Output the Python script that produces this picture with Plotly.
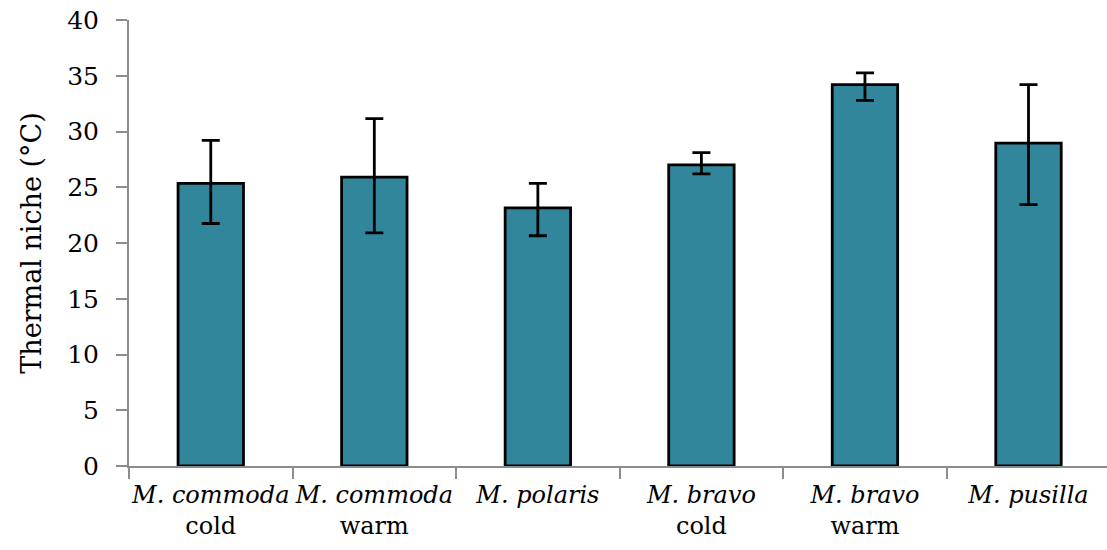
import plotly.graph_objects as go

# Thermal niche per species / population
species = ["M. commoda", "M. commoda", "M. polaris", "M. bravo", "M. bravo", "M. pusilla"]
groups = ["cold", "warm", "", "cold", "warm", ""]
niche = [25.35, 25.9, 23.15, 27.0, 34.2, 28.95]
err_plus = [3.85, 5.25, 2.2, 1.1, 1.05, 5.25]
err_minus = [3.6, 5.0, 2.5, 0.8, 1.4, 5.5]
y_ticks = [0, 5, 10, 15, 20, 25, 30, 35, 40]

# Category labels: italic species name, population on a second line
labels = [f"<i>{s}</i><br>{g}" for s, g in zip(species, groups)]
x = list(range(len(species)))
boundaries = [i - 0.5 for i in range(len(species) + 1)]

FONT = "DejaVu Serif"
AXIS_GREY = "#8c8c8c"

fig = go.Figure(
    go.Bar(
        x=x,
        y=niche,
        width=0.4,
        marker=dict(color="#32869c", line=dict(color="black", width=2.8)),
        error_y=dict(
            type="data",
            symmetric=False,
            array=err_plus,
            arrayminus=err_minus,
            color="black",
            thickness=2.8,
            width=9,
        ),
    )
)

fig.update_layout(
    width=1107,
    height=550,
    margin=dict(l=129, r=0, t=20, b=84),
    paper_bgcolor="white",
    plot_bgcolor="white",
    showlegend=False,
    font=dict(family=FONT, size=24, color="black"),
)

# Labels at category centres, tick marks on the category boundaries
fig.update_xaxes(
    range=[-0.5, 5.48],
    tickmode="array",
    tickvals=x,
    ticktext=labels,
    ticks="",
    tickangle=0,
    ticklabelstandoff=6,
    minor=dict(
        tickmode="array",
        tickvals=boundaries,
        ticks="outside",
        ticklen=11,
        tickwidth=2,
        tickcolor=AXIS_GREY,
        showgrid=False,
    ),
    showline=True,
    linecolor=AXIS_GREY,
    linewidth=2,
    showgrid=False,
    zeroline=False,
    automargin=False,
    tickfont=dict(family=FONT, size=24),
)

fig.update_yaxes(
    range=[0, 40],
    tickmode="array",
    tickvals=y_ticks,
    ticks="outside",
    ticklen=11,
    tickwidth=2,
    tickcolor=AXIS_GREY,
    ticklabelstandoff=12,
    showline=True,
    linecolor=AXIS_GREY,
    linewidth=2,
    showgrid=False,
    zeroline=False,
    automargin=False,
    tickfont=dict(family=FONT, size=25),
    title=dict(text="Thermal niche (°C)", font=dict(family=FONT, size=27), standoff=18),
)

fig.write_html("out.html")
